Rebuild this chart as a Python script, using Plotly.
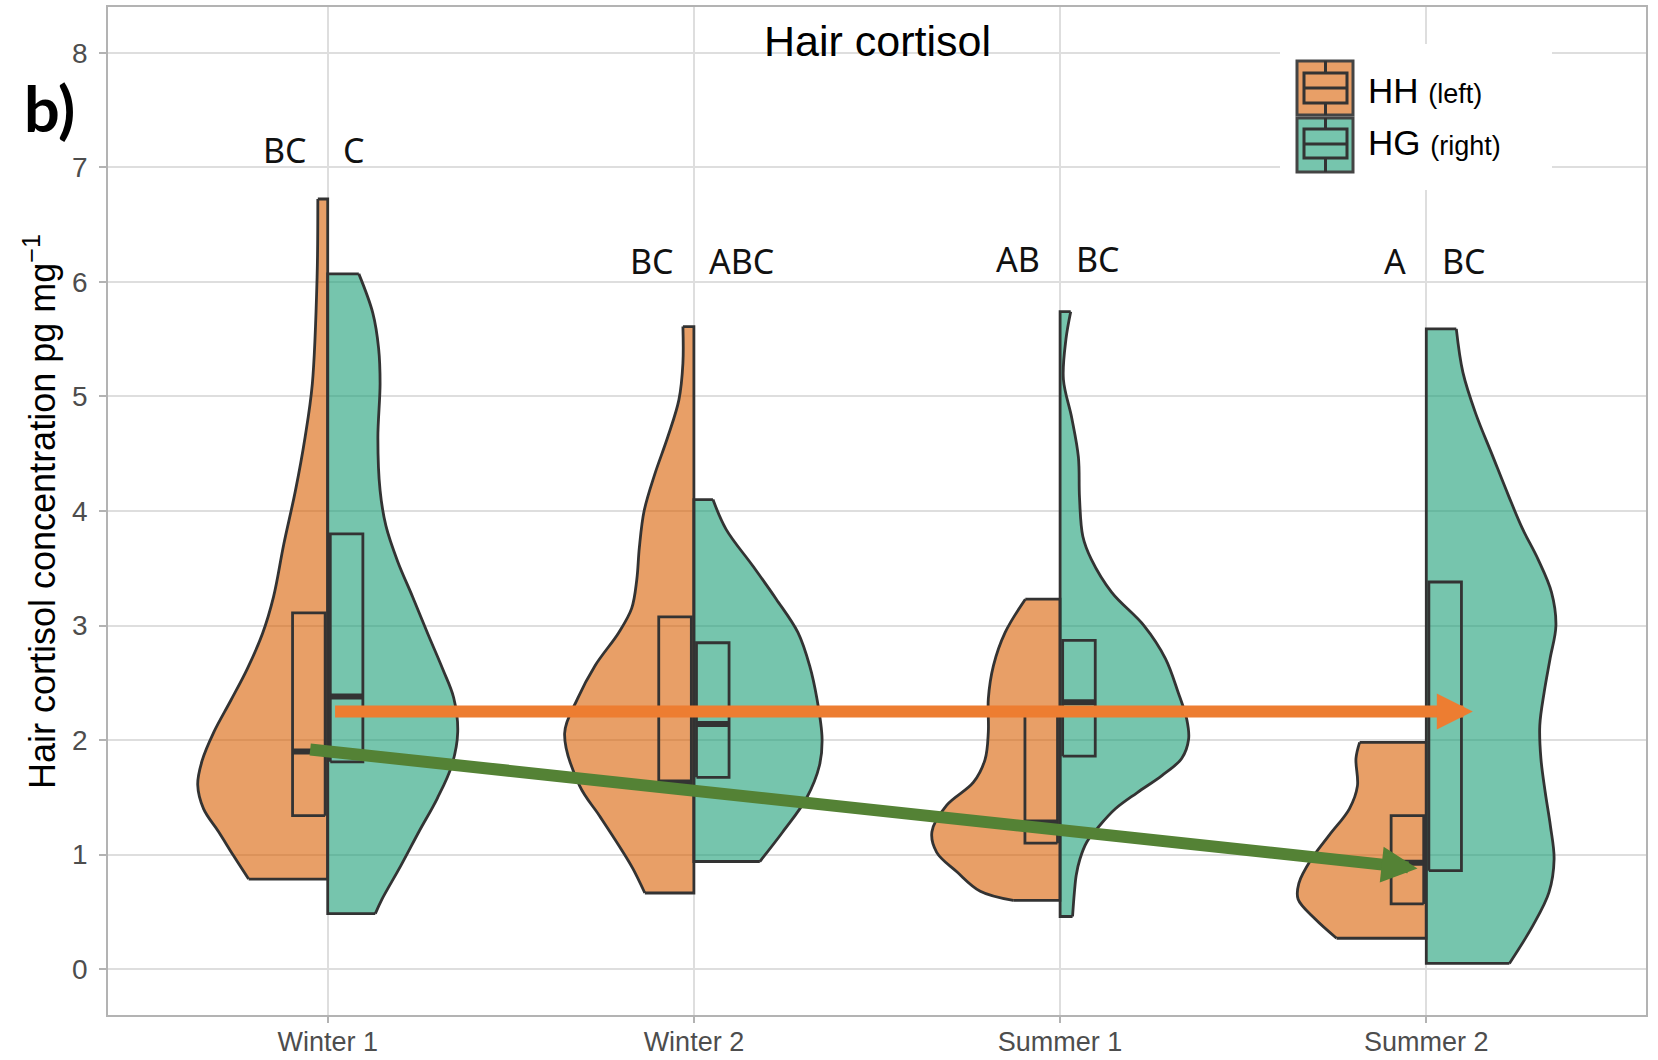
import plotly.graph_objects as go

# ---------------- data ----------------
categories = ["Winter 1", "Winter 2", "Summer 1", "Summer 2"]
y_ticks = [0, 1, 2, 3, 4, 5, 6, 7, 8]

# half-violin outlines: value (pg/mg) and half-width (category units), bottom -> top
w1_hh_y = [0.787, 0.99, 1.20, 1.40, 1.61, 1.82, 2.07, 2.35, 2.62, 2.93, 3.25, 3.71, 4.18, 4.64, 5.11, 6.04, 6.724]
w1_hh_w = [0.216, 0.257, 0.298, 0.339, 0.355, 0.343, 0.311, 0.264, 0.220, 0.178, 0.148, 0.120, 0.088, 0.062, 0.042, 0.029, 0.027]
w1_hg_y = [0.485, 0.61, 0.90, 1.20, 1.49, 1.78, 2.07, 2.37, 2.62, 2.93, 3.25, 3.56, 3.87, 4.18, 4.64, 5.11, 5.42, 5.73, 6.07]
w1_hg_w = [0.130, 0.148, 0.199, 0.249, 0.299, 0.339, 0.355, 0.344, 0.314, 0.273, 0.232, 0.191, 0.159, 0.143, 0.137, 0.143, 0.139, 0.123, 0.085]

w2_hh_y = [0.665, 0.88, 1.05, 1.34, 1.60, 2.06, 2.36, 2.65, 2.94, 3.15, 3.40, 3.68, 4.00, 4.32, 4.65, 4.97, 5.29, 5.61]
w2_hh_w = [0.134, 0.167, 0.199, 0.258, 0.312, 0.353, 0.318, 0.270, 0.205, 0.170, 0.156, 0.149, 0.136, 0.107, 0.071, 0.041, 0.030, 0.030]
w2_hg_y = [0.94, 1.20, 1.49, 1.78, 2.01, 2.36, 2.65, 2.94, 3.23, 3.52, 3.84, 4.10]
w2_hg_w = [0.180, 0.243, 0.307, 0.343, 0.350, 0.336, 0.316, 0.284, 0.225, 0.161, 0.088, 0.052]

s1_hh_y = [0.60, 0.68, 0.85, 1.02, 1.20, 1.43, 1.63, 1.83, 2.07, 2.36, 2.65, 2.94, 3.23]
s1_hh_w = [0.128, 0.218, 0.282, 0.337, 0.350, 0.310, 0.237, 0.205, 0.196, 0.196, 0.182, 0.150, 0.095]
s1_hg_y = [0.46, 0.67, 0.82, 0.96, 1.11, 1.25, 1.40, 1.54, 1.69, 1.84, 2.01, 2.18, 2.42, 2.71, 3.00, 3.29, 3.58, 3.78, 4.12, 4.47, 4.81, 5.15, 5.50, 5.74]
s1_hg_w = [0.034, 0.039, 0.044, 0.054, 0.073, 0.107, 0.151, 0.210, 0.278, 0.332, 0.351, 0.346, 0.322, 0.288, 0.229, 0.141, 0.085, 0.062, 0.053, 0.050, 0.032, 0.009, 0.016, 0.029]

s2_hh_y = [0.27, 0.44, 0.61, 0.75, 0.96, 1.17, 1.40, 1.60, 1.84, 1.98]
s2_hh_w = [0.245, 0.304, 0.350, 0.348, 0.314, 0.265, 0.210, 0.188, 0.192, 0.182]
s2_hg_y = [0.05, 0.38, 0.67, 0.96, 1.25, 1.54, 1.84, 2.13, 2.42, 2.71, 3.00, 3.29, 3.58, 3.85, 4.13, 4.49, 4.85, 5.21, 5.59]
s2_hg_w = [0.227, 0.291, 0.335, 0.349, 0.339, 0.325, 0.313, 0.310, 0.322, 0.338, 0.354, 0.342, 0.305, 0.262, 0.225, 0.180, 0.135, 0.100, 0.082]

hh_profiles = [(w1_hh_y, w1_hh_w), (w2_hh_y, w2_hh_w), (s1_hh_y, s1_hh_w), (s2_hh_y, s2_hh_w)]
hg_profiles = [(w1_hg_y, w1_hg_w), (w2_hg_y, w2_hg_w), (s1_hg_y, s1_hg_w), (s2_hg_y, s2_hg_w)]

# box statistics (Q1, median, Q3)
hh_q1 = [1.34, 1.57, 1.10, 0.57]
hh_med = [1.90, 1.63, 1.28, 0.93]
hh_q3 = [3.11, 3.075, 2.24, 1.34]
hg_q1 = [1.81, 1.675, 1.86, 0.86]
hg_med = [2.38, 2.14, 2.33, 2.25]
hg_q3 = [3.80, 2.85, 2.87, 3.38]

# significance letters
letters_hh = ["BC", "BC", "AB", "A"]
letters_hg = ["C", "ABC", "BC", "BC"]
letters_y = [7.15, 6.185, 6.20, 6.18]

# arrows (x in category units, y in pg/mg): start, end
orange_arrow = [(0.016, 2.25), (3.127, 2.25)]
green_arrow = [(-0.052, 1.92), (2.976, 0.88)]

# ---------------- style ----------------
HH_FILL = "rgba(217,95,2,0.6)"
HG_FILL = "rgba(27,158,119,0.6)"
OUTLINE = "#333333"
FONT = "Liberation Sans, Arial, sans-serif"
L, R, T, B = 108, 12, 7, 45
W, H = 1658, 1060
PW, PH = W - L - R, H - T - B


def px(x):
    return (x - L) / PW


def py(y):
    return (H - B - y) / PH


fig = go.Figure()


def add_half(c, side, ys, ws, fill):
    xe = [c + side * w for w in ws]
    # flats + centre line (linear)
    fig.add_trace(go.Scatter(
        x=[xe[0], c, c, xe[-1]], y=[ys[0], ys[0], ys[-1], ys[-1]],
        mode="lines", line=dict(color=OUTLINE, width=2.8), hoverinfo="skip"))
    # curved edge (spline) filled to the previous trace
    fig.add_trace(go.Scatter(
        x=xe, y=ys, mode="lines", line=dict(color=OUTLINE, width=2.8, shape="spline", smoothing=1),
        fill="tonextx", fillcolor=fill, hoverinfo="skip"))


for i in range(4):
    add_half(i, -1, hh_profiles[i][0], hh_profiles[i][1], HH_FILL)
    add_half(i, 1, hg_profiles[i][0], hg_profiles[i][1], HG_FILL)

BOX_IN, BOX_OUT = 0.007, 0.096
for i in range(4):
    for side, q1, md, q3 in ((-1, hh_q1[i], hh_med[i], hh_q3[i]), (1, hg_q1[i], hg_med[i], hg_q3[i])):
        xi, xo = i + side * BOX_IN, i + side * BOX_OUT
        fig.add_trace(go.Scatter(
            x=[xi, xo, xo, xi, xi], y=[q1, q1, q3, q3, q1], mode="lines",
            line=dict(color=OUTLINE, width=2.8), hoverinfo="skip"))
        fig.add_trace(go.Scatter(
            x=[xi, xo], y=[md, md], mode="lines",
            line=dict(color=OUTLINE, width=6), hoverinfo="skip"))

annotations = []
# arrows
for (start, end), col in ((orange_arrow, "#ED7D31"), (green_arrow, "#548235")):
    annotations.append(dict(
        x=end[0], y=end[1], ax=start[0], ay=start[1], xref="x", yref="y", axref="x", ayref="y",
        text="", showarrow=True, arrowhead=2, arrowsize=0.6, arrowwidth=12, arrowcolor=col, standoff=0))

# letters
for i in range(4):
    annotations.append(dict(x=i - 0.05, y=letters_y[i], xref="x", yref="y", text=letters_hh[i],
                            showarrow=False, xanchor="right", yanchor="middle",
                            font=dict(family="Noto Sans", size=34, color="#111111")))
    annotations.append(dict(x=i + 0.037, y=letters_y[i], xref="x", yref="y", text=letters_hg[i],
                            showarrow=False, xanchor="left", yanchor="middle",
                            font=dict(family="Noto Sans", size=34, color="#111111")))

# title
annotations.append(dict(x=0.5, y=py(41), xref="paper", yref="paper", text="Hair cortisol",
                        showarrow=False, xanchor="center", yanchor="middle",
                        font=dict(family=FONT, size=43, color="#000000")))
# panel tag
annotations.append(dict(x=px(22), y=py(108), xref="paper", yref="paper", text="<b>b)</b>",
                        showarrow=False, xanchor="left", yanchor="middle",
                        font=dict(family="Lato", size=63, color="#000000")))
# y axis title
annotations.append(dict(x=px(40), y=py(512), xref="paper", yref="paper",
                        text="Hair cortisol concentration pg mg<sup>\u22121</sup>",
                        showarrow=False, textangle=-90, xanchor="center", yanchor="middle",
                        font=dict(family=FONT, size=36, color="#000000")))
# legend text
annotations.append(dict(x=px(1366), y=py(90), xref="paper", yref="paper",
                        text="HH <span style='font-size:27px'>(left)</span>",
                        showarrow=False, xanchor="left", yanchor="middle",
                        font=dict(family=FONT, size=35, color="#000000")))
annotations.append(dict(x=px(1366), y=py(143), xref="paper", yref="paper",
                        text="HG <span style='font-size:27px'>(right)</span>",
                        showarrow=False, xanchor="left", yanchor="middle",
                        font=dict(family=FONT, size=35, color="#000000")))

shapes = []
# legend background
shapes.append(dict(type="rect", xref="paper", yref="paper", x0=px(1280), x1=px(1552), y0=py(44), y1=py(190),
                   fillcolor="white", line=dict(width=0), layer="above"))
for (k0, k1, b0, b1, med, fill) in ((61, 115, 73, 103, 88, HH_FILL), (118, 172, 129, 158, 144, HG_FILL)):
    shapes.append(dict(type="rect", xref="paper", yref="paper", x0=px(1297), x1=px(1353), y0=py(k1), y1=py(k0),
                       fillcolor=fill, line=dict(color="#444444", width=3), layer="above"))
    shapes.append(dict(type="line", xref="paper", yref="paper", x0=px(1325.5), x1=px(1325.5), y0=py(k0), y1=py(b0),
                       line=dict(color=OUTLINE, width=3), layer="above"))
    shapes.append(dict(type="line", xref="paper", yref="paper", x0=px(1325.5), x1=px(1325.5), y0=py(b1), y1=py(k1),
                       line=dict(color=OUTLINE, width=3), layer="above"))
    shapes.append(dict(type="rect", xref="paper", yref="paper", x0=px(1304), x1=px(1347), y0=py(b1), y1=py(b0),
                       fillcolor="rgba(0,0,0,0)", line=dict(color=OUTLINE, width=3), layer="above"))
    shapes.append(dict(type="line", xref="paper", yref="paper", x0=px(1304), x1=px(1347), y0=py(med), y1=py(med),
                       line=dict(color=OUTLINE, width=3), layer="above"))

fig.update_layout(
    width=W, height=H, margin=dict(l=L, r=R, t=T, b=B, autoexpand=False), autosize=False,
    paper_bgcolor="white", plot_bgcolor="white", showlegend=False,
    annotations=annotations, shapes=shapes,
    xaxis=dict(range=[-0.6, 3.6], tickvals=[0, 1, 2, 3], ticktext=categories, automargin=False,
               showgrid=True, gridcolor="#DEDEDE", gridwidth=1.5, zeroline=False,
               showline=True, mirror=True, linecolor="#B3B3B3", linewidth=1.5,
               ticks="outside", ticklen=6, tickcolor="#B3B3B3", tickwidth=1.5, ticklabelstandoff=-4,
               tickfont=dict(family=FONT, size=27, color="#4D4D4D")),
    yaxis=dict(range=[-0.4, 8.4], tickvals=y_ticks, ticktext=[str(v) for v in y_ticks], automargin=False,
               showgrid=True, gridcolor="#DEDEDE", gridwidth=2, zeroline=False,
               showline=True, mirror=True, linecolor="#B3B3B3", linewidth=1.5,
               ticks="outside", ticklen=7, tickcolor="#B3B3B3", tickwidth=1.5, ticklabelstandoff=6,
               tickfont=dict(family=FONT, size=28, color="#4D4D4D")),
)

fig.write_html(
    "out.html",
    config={"responsive": False, "displayModeBar": False},
    post_script="document.body.style.margin='0px';document.body.style.padding='0px';"
                "Plotly.relayout('{plot_id}', {width: 1658, height: 1060});",
)
